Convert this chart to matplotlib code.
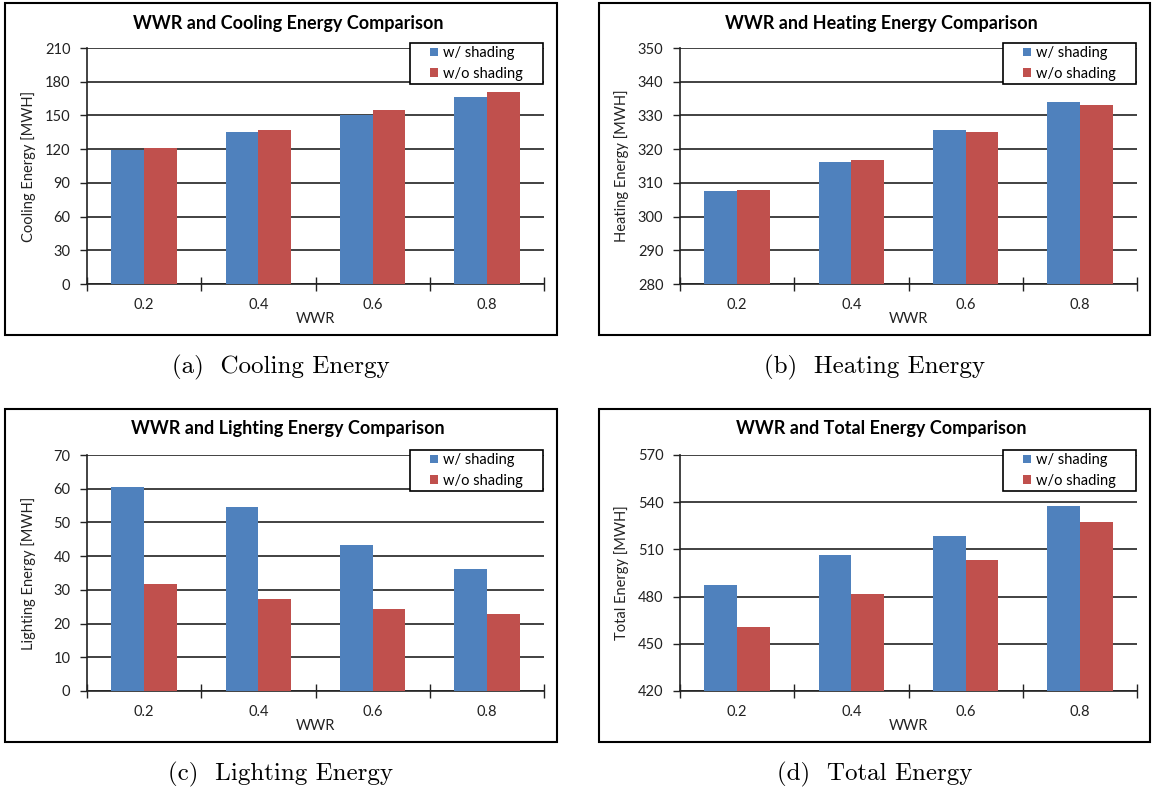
import matplotlib
matplotlib.use('Agg')
import matplotlib.pyplot as plt
from matplotlib.patches import Rectangle
import numpy as np

# data
wwr = ['0.2', '0.4', '0.6', '0.8']
series_names = ['w/ shading', 'w/o shading']

cooling_shaded = [119.5, 135.2, 150.0, 166.5]
cooling_unshaded = [121.0, 137.2, 154.4, 171.2]
heating_shaded = [307.6, 316.2, 325.8, 333.9]
heating_unshaded = [308.0, 316.9, 325.1, 333.0]
lighting_shaded = [60.5, 54.7, 43.4, 36.3]
lighting_unshaded = [31.8, 27.4, 24.4, 22.8]
total_shaded = [487.5, 506.3, 518.5, 537.5]
total_unshaded = [460.9, 481.4, 503.5, 527.2]

titles = ['WWR and Cooling Energy Comparison', 'WWR and Heating Energy Comparison',
          'WWR and Lighting Energy Comparison', 'WWR and Total Energy Comparison']
ylabels = ['Cooling Energy [MWH]', 'Heating Energy [MWH]',
           'Lighting Energy [MWH]', 'Total Energy [MWH]']
captions = ['(a)  Cooling Energy', '(b)  Heating Energy',
            '(c)  Lighting Energy', '(d)  Total Energy']
y_ranges = [(0, 210, 30), (280, 350, 10), (0, 70, 10), (420, 570, 30)]

shaded = [cooling_shaded, heating_shaded, lighting_shaded, total_shaded]
unshaded = [cooling_unshaded, heating_unshaded, lighting_unshaded, total_unshaded]

BLUE = '#4F81BD'
RED = '#C0504D'
W, H = 1152, 792

plt.rcParams['font.family'] = ['Lato', 'DejaVu Sans']


def px_rect(x0, y0, x1, y1):
    return [x0 / W, 1 - y1 / H, (x1 - x0) / W, (y1 - y0) / H]


# (box, plot area) in pixels
layout = [
    ((5, 3, 557, 335), (87, 48, 544, 284)),
    ((599, 3, 1150, 335), (680, 48, 1137, 284)),
    ((5, 409, 557, 742), (87, 455, 544, 691)),
    ((599, 409, 1150, 742), (680, 455, 1137, 691)),
]

fig = plt.figure(figsize=(W / 100, H / 100), dpi=100)

for i in range(4):
    box, plot = layout[i]
    bx0, by0, bx1, by1 = box
    px0, py0, px1, py1 = plot
    pw, ph = px1 - px0, py1 - py0

    fig.add_artist(Rectangle((bx0 / W, 1 - by1 / H), (bx1 - bx0) / W, (by1 - by0) / H,
                             transform=fig.transFigure, fill=False, ec='black', lw=1.5))

    ax = fig.add_axes(px_rect(*plot))
    x = np.arange(len(wwr)) + 0.5
    w = 1 / 3.5
    ax.bar(x - w / 2, shaded[i], w, color=BLUE, zorder=3, label=series_names[0])
    ax.bar(x + w / 2, unshaded[i], w, color=RED, zorder=3, label=series_names[1])

    lo, hi, step = y_ranges[i]
    ax.set_xlim(0, len(wwr))
    ax.set_ylim(lo, hi)
    ax.set_yticks(np.arange(lo, hi + 1, step))
    ax.set_xticks(np.arange(len(wwr) + 1))
    ax.set_xticklabels([])
    ax.set_xticks(x, minor=True)
    ax.set_xticklabels(wwr, minor=True)
    ax.tick_params(axis='x', which='major', direction='inout', length=10, width=1, color='#222222')
    ax.tick_params(axis='x', which='minor', length=0, pad=10, labelsize=10.5, labelcolor='#222222')
    ax.tick_params(axis='y', direction='out', length=5, width=1, pad=7, labelsize=10.5,
                   labelcolor='#222222', color='#222222')

    ax.yaxis.grid(True, color='#333333', lw=1.3)
    ax.set_axisbelow(True)
    for s in ['top', 'right']:
        ax.spines[s].set_visible(False)
    for s in ['left', 'bottom']:
        ax.spines[s].set_color('#222222')
        ax.spines[s].set_linewidth(1.2)

    ax.set_ylabel(ylabels[i], fontsize=10.5, color='#222222')
    ax.yaxis.set_label_coords(-51 / pw, 0.5)
    ax.set_xlabel('WWR', fontsize=10.5, color='#222222')
    ax.xaxis.set_label_coords(0.5, -28 / ph)

    # legend frame drawn by hand so it can be wider than its entries
    lx0, ly0 = px1 - 134, py0 - 5
    lx1, ly1 = px1 - 1, py0 + 36
    ax.add_patch(Rectangle(((lx0 - px0) / pw, 1 - (ly1 - py0) / ph), (lx1 - lx0) / pw, (ly1 - ly0) / ph,
                           transform=ax.transAxes, fc='white', ec='black', lw=1.2,
                           clip_on=False, zorder=4))
    ax.legend(loc='center left', bbox_to_anchor=((px1 - 114 - px0) / pw, 1 - 15.5 / ph),
              frameon=False, fontsize=10.5, handlelength=0.55, handleheight=0.55,
              handletextpad=0.35, labelspacing=0.45, borderpad=0, borderaxespad=0)

    fig.text((bx0 + bx1) / 2 / W + 7 / W, 1 - (by0 + 20) / H, titles[i],
             ha='center', va='center', fontsize=13, fontweight='bold')

    fig.text((bx0 + bx1) / 2 / W, 1 - (by1 + 32) / H, captions[i],
             ha='center', va='center', fontsize=18, family='cmr10')

fig.savefig('out.png', dpi=100)
